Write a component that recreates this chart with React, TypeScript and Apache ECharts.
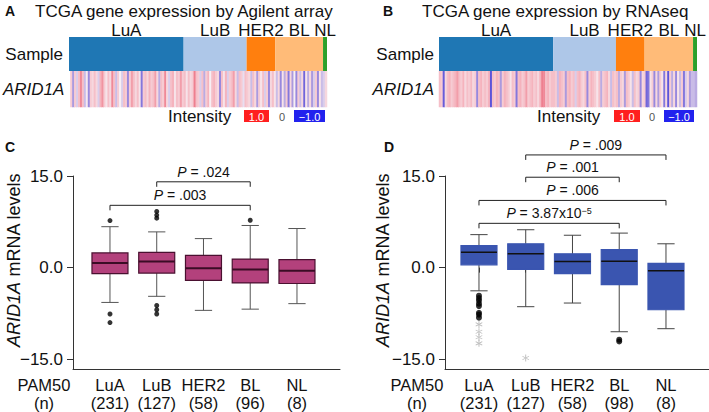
import React, { useEffect, useRef } from 'react';
import * as echarts from 'echarts';

const FONT = '"Liberation Sans", Arial, sans-serif';

const subtypes = ['LuA', 'LuB', 'HER2', 'BL', 'NL'];
const agilentCounts = [231, 127, 58, 96, 8];
const rnaseqCounts = [231, 127, 58, 98, 8];
const subtypeColors = ['#1f77b4', '#aec7e8', '#ff7f0e', '#ffbb78', '#2ca02c'];

// ARID1A intensity stripes (each stripe ≈ 4 samples), Agilent array
const agiLuA = [0.3, -0.5, 0.3, -0.2, 0.4, 0.7, 0.4, -0.3, 0.05, -0.6, 0.3, 0.2, 0.4, 0.2, -0.2, 0.5, 0.65, 0.3, 0.1, 0.4, 0.2, 0.7, 0.4, -0.3, 0.3, 0.0, -0.2, 0.4, 0.3, -0.6, 0.3, 0.6, 0.4, 0.2, 0.4, 0.1, -0.7, 0.3, 0.4, 0.2, 0.5, 0.3, 0.4, 0.6, 0.2, -0.4, 0.4, 0.3, 0.7, 0.2, -0.2, 0.4, 0.5, 0.1, 0.4, 0.3, 0.6, 0.3];
const agiLuB = [0.4, 0.1, 0.4, 0.2, 0.3, 0.75, 0.4, 0.3, -0.2, 0.4, -0.4, 0.3, 0.5, 0.0, 0.4, 0.5, 0.3, 0.2, -0.6, 0.4, 0.1, 0.5, -0.2, 0.3, 0.4, 0.6, 0.2, -0.3, 0.4, 0.3, -0.1, 0.4];
const agiHER2 = [0.3, 0.2, -0.3, 0.4, 0.2, -0.5, 0.3, 0.1, 0.4, -0.2, 0.3, -0.6, 0.2, 0.4, 0.1];
const agiBL = [-0.3, 0.2, -0.6, 0.1, -0.4, 0.3, -0.7, 0.2, -0.5, 0.0, -0.6, 0.3, -0.3, 0.2, -0.8, 0.1, -0.4, 0.2, -0.5, -0.2, 0.3, -0.6, 0.1, -0.3];
const agiNL = [-0.2, 0.2];

// ARID1A intensity stripes, RNAseq
const rnaLuA = [0.4, 0.3, -0.85, 0.2, 0.4, 0.5, 0.3, 0.4, 0.5, 0.6, 0.4, 0.3, 0.5, 0.2, 0.4, 0.3, 0.45, 0.2, 0.3, -0.6, 0.4, 0.5, 0.3, 0.4, 0.3, 0.5, -0.9, 0.4, 0.3, 0.5, 0.4, -0.5, 0.3, 0.5, 0.4, 0.3, 0.1, 0.4, 0.3, -0.7, 0.4, 0.5, 0.3, 0.4, 0.6, 0.3, 0.4, 0.5, 0.3, 0.4, 0.2, 0.5, 0.75, 0.7, 0.4, 0.5, 0.3, 0.4];
const rnaLuB = [0.4, 0.3, -0.3, 0.5, 0.4, 0.3, -0.5, 0.4, 0.5, 0.3, 0.4, -0.2, 0.4, 0.5, 0.3, 0.2, 0.4, -0.6, 0.3, 0.5, 0.4, 0.3, 0.1, 0.4, -0.4, 0.3, 0.4, 0.5, 0.2, -0.3, 0.4, 0.3];
const rnaHER2 = [0.4, -0.4, 0.3, 0.2, -0.5, 0.4, 0.3, 0.1, -0.3, 0.4, 0.2, 0.3, -0.6, 0.2, 0.3];
const rnaBL = [-0.8, -0.7, 0.1, 0.3, -0.6, 0.2, -0.5, 0.3, 0.1, -0.7, 0.2, -0.9, 0.3, -0.4, 0.2, -0.6, 0.1, -0.3, 0.3, -0.7, -0.2, 0.2, -0.5, -0.3];
const rnaNL = [-0.3, -0.4];

// Box statistics [low whisker, Q1, median, Q3, high whisker] per subtype
const boxC = [
  [-5.7, -1.0, 0.77, 2.4, 6.7],
  [-4.7, -0.9, 1.0, 2.5, 5.85],
  [-7.0, -2.1, -0.1, 2.0, 4.75],
  [-6.8, -2.5, -0.3, 1.4, 6.9],
  [-5.9, -2.6, -0.5, 1.3, 6.4],
];
const outliersC = [[0, 7.7], [0, -7.6], [0, -9.0], [1, 9.2], [1, 8.6], [1, 8.1], [1, -6.2], [1, -6.9], [1, -7.6], [3, 7.75]];
const boxD = [
  [-3.8, 0.45, 2.5, 3.6, 5.4],
  [-6.4, -0.3, 2.25, 3.9, 6.2],
  [-5.8, -1.0, 1.0, 2.25, 5.3],
  [-10.5, -2.8, 1.05, 2.95, 5.65],
  [-10.0, -6.9, -0.5, 0.7, 3.9],
];
const outliersD = [[0, -4.6], [0, -5.0], [0, -5.4], [0, -5.9], [0, -6.3], [0, -7.4], [0, -7.7], [0, -8.2], [3, -11.8], [3, -12.1]];
const extremesD = [[0, -9.3], [0, -10.5], [0, -11.4], [0, -12.4], [1, -14.8]];

// Significance brackets [fromIndex, toIndex, y]
const bracketsC = [[1, 3, 14.05], [0, 3, 10.2]];
const pLabelsC = ['{i|P} = .024', '{i|P} = .003'];
const bracketsD = [[1, 4, 18.45], [1, 3, 14.8], [0, 4, 11.0], [0, 3, 7.25]];
const pLabelsD = ['{i|P} = .009', '{i|P} = .001', '{i|P} = .006', '{i|P} = 3.87x10{s|−5}'];

const yTicks = [-15, 0, 15];

const ASTERISK = 'path://M-0.6,-5L0.6,-5L0.6,5L-0.6,5Z M4.03,3.02L4.63,1.98L-4.03,-3.02L-4.63,-1.98Z M-4.63,1.98L-4.03,3.02L4.63,-1.98L4.03,-3.02Z';

function sum(a: number[]) { return a.reduce((s, v) => s + v, 0); }

function stripeData(groups: number[][]) {
  const all = groups.flat();
  return { cats: all.map((_, i) => String(i)), data: all.map((v, i) => [i, 0, v]) };
}

function boxRender(fill: string, border: string, median: string, medianW: number, whisker: string) {
  return (params: any, api: any) => {
    const x = api.value(0);
    const low = api.coord([x, api.value(1)]);
    const q1 = api.coord([x, api.value(2)]);
    const med = api.coord([x, api.value(3)]);
    const q3 = api.coord([x, api.value(4)]);
    const high = api.coord([x, api.value(5)]);
    const bw = api.size([1, 0])[0] * 0.77;
    const cw = bw * 0.48;
    const cx = low[0];
    const ls = { stroke: whisker, lineWidth: 1 };
    return {
      type: 'group',
      children: [
        { type: 'line', shape: { x1: cx, y1: high[1], x2: cx, y2: q3[1] }, style: ls },
        { type: 'line', shape: { x1: cx, y1: q1[1], x2: cx, y2: low[1] }, style: ls },
        { type: 'line', shape: { x1: cx - cw / 2, y1: high[1], x2: cx + cw / 2, y2: high[1] }, style: ls },
        { type: 'line', shape: { x1: cx - cw / 2, y1: low[1], x2: cx + cw / 2, y2: low[1] }, style: ls },
        { type: 'rect', shape: { x: cx - bw / 2, y: q3[1], width: bw, height: q1[1] - q3[1] }, style: { fill, stroke: border, lineWidth: 1.2 } },
        { type: 'line', shape: { x1: cx - bw / 2, y1: med[1], x2: cx + bw / 2, y2: med[1] }, style: { stroke: median, lineWidth: medianW } },
      ],
    };
  };
}

function bracketRender(labels: string[]) {
  return (params: any, api: any) => {
    const a = api.coord([api.value(0), api.value(2)]);
    const b = api.coord([api.value(1), api.value(2)]);
    return {
      type: 'group',
      children: [
        { type: 'polyline', shape: { points: [[a[0], a[1] + 5], [a[0], a[1]], [b[0], b[1]], [b[0], b[1] + 5]] }, style: { stroke: '#222', lineWidth: 1, fill: 'none' } },
        {
          type: 'text',
          style: {
            text: labels[params.dataIndex], x: (a[0] + b[0]) / 2, y: a[1] - 10, align: 'center', verticalAlign: 'middle',
            fontSize: 14, fontFamily: FONT, fill: '#111',
            rich: { i: { fontStyle: 'italic', fontSize: 14, fontFamily: FONT, fill: '#111' }, s: { fontSize: 9, fontFamily: FONT, verticalAlign: 'top', fill: '#111' } },
          },
        },
      ],
    };
  };
}

function legendGraphics(xInt: number, xRed: number, wRed: number, xZero: number, xBlue: number, wBlue: number) {
  const y = 110;
  return [
    { type: 'text', x: xInt, y: 116, style: { text: 'Intensity', fontSize: 17, fontFamily: FONT, fill: '#111', verticalAlign: 'middle' } },
    { type: 'rect', shape: { x: xRed, y, width: wRed, height: 12 }, style: { fill: '#ff1f1f' } },
    { type: 'text', x: xRed + wRed / 2, y: 116.5, style: { text: '1.0', fontSize: 11, fontFamily: FONT, fill: '#fff', align: 'center', verticalAlign: 'middle' } },
    { type: 'text', x: xZero, y: 116.5, style: { text: '0', fontSize: 11, fontFamily: FONT, fill: '#555', align: 'center', verticalAlign: 'middle' } },
    { type: 'rect', shape: { x: xBlue, y, width: wBlue, height: 12 }, style: { fill: '#2222ee' } },
    { type: 'text', x: xBlue + wBlue / 2, y: 116.5, style: { text: '−1.0', fontSize: 11, fontFamily: FONT, fill: '#fff', align: 'center', verticalAlign: 'middle' } },
  ];
}

export default function App() {
  const ref = useRef<HTMLDivElement>(null);
  useEffect(() => {
    if (!ref.current) return;
    const chart = echarts.init(ref.current, undefined, { renderer: 'svg' });
    const stA = stripeData([agiLuA, agiLuB, agiHER2, agiBL, agiNL]);
    const stB = stripeData([rnaLuA, rnaLuB, rnaHER2, rnaBL, rnaNL]);
    const catLabelsC = subtypes.map((s, i) => `${s}\n(${agilentCounts[i]})`);
    const catLabelsD = subtypes.map((s, i) => `${s}\n(${rnaseqCounts[i]})`);
    const txt = { fontSize: 17, fontFamily: FONT, color: '#111' };
    const hiddenAxis = { show: false };

    const sampleBars = (counts: number[], axis: number, stack: string) =>
      subtypes.map((s, i) => ({
        type: 'bar', name: s, stack, xAxisIndex: axis, yAxisIndex: axis, barWidth: '100%',
        data: [counts[i]], itemStyle: { color: subtypeColors[i] },
        label: { show: true, position: 'top', distance: 0, formatter: s, ...txt, lineHeight: 14 },
      }));

    const valueY = (offset: number) => ({
      type: 'value', min: -16.6, max: 15, offset,
      axisLine: { show: true, lineStyle: { color: '#333', width: 1 } },
      axisTick: { show: true, length: 6, customValues: yTicks, lineStyle: { color: '#333' } },
      axisLabel: { ...txt, margin: 10, customValues: yTicks, formatter: (v: number) => v.toFixed(1).replace('-', '−') },
      splitLine: { show: false },
    });
    const catX = (labels: string[]) => ({
      type: 'category', data: labels, boundaryGap: true,
      axisLine: { show: false },
      axisTick: { show: true, alignWithLabel: true, length: 5, lineStyle: { color: '#333' } },
      axisLabel: { ...txt, fontSize: 16.5, lineHeight: 18, margin: 7, interval: 0 },
    });
    const lineX = { type: 'value', min: 0, max: 1, axisLine: { show: true, onZero: false, lineStyle: { color: '#333', width: 1 } }, axisTick: { show: false }, axisLabel: { show: false }, splitLine: { show: false } };

    const option: any = {
      animation: false,
      backgroundColor: '#fff',
      grid: [
        { left: 69, top: 37, width: 258, height: 34 },
        { left: 69, top: 71, width: 258, height: 36 },
        { left: 439, top: 37, width: 258, height: 34 },
        { left: 439, top: 71, width: 258, height: 36 },
        { left: 86.6, top: 176, width: 233.75, height: 193 },
        { left: 73, top: 176, width: 267, height: 193 },
        { left: 455.6, top: 176, width: 233.75, height: 193 },
        { left: 445, top: 176, width: 264, height: 193 },
      ],
      xAxis: [
        { gridIndex: 0, type: 'value', min: 0, max: sum(agilentCounts), ...hiddenAxis },
        { gridIndex: 1, type: 'category', data: stA.cats, ...hiddenAxis },
        { gridIndex: 2, type: 'value', min: 0, max: sum(rnaseqCounts), ...hiddenAxis },
        { gridIndex: 3, type: 'category', data: stB.cats, ...hiddenAxis },
        { gridIndex: 4, ...catX(catLabelsC) },
        { gridIndex: 5, ...lineX },
        { gridIndex: 6, ...catX(catLabelsD) },
        { gridIndex: 7, ...lineX },
      ],
      yAxis: [
        { gridIndex: 0, type: 'category', data: ['Sample'], axisLine: { show: false }, axisTick: { show: false }, axisLabel: { ...txt, margin: 6 } },
        { gridIndex: 1, type: 'category', data: ['ARID1A'], axisLine: { show: false }, axisTick: { show: false }, axisLabel: { ...txt, fontStyle: 'italic', margin: 6 } },
        { gridIndex: 2, type: 'category', data: ['Sample'], axisLine: { show: false }, axisTick: { show: false }, axisLabel: { ...txt, margin: 5 } },
        { gridIndex: 3, type: 'category', data: ['ARID1A'], axisLine: { show: false }, axisTick: { show: false }, axisLabel: { ...txt, fontStyle: 'italic', margin: 5 } },
        { gridIndex: 4, ...valueY(13.6) },
        { gridIndex: 5, type: 'value', min: -16.6, max: 15, show: false },
        { gridIndex: 6, ...valueY(10.6) },
        { gridIndex: 7, type: 'value', min: -16.6, max: 15, show: false },
      ],
      visualMap: {
        type: 'continuous', min: -1, max: 1, show: false, seriesIndex: [10, 11], dimension: 2,
        inRange: { color: ['#4a42d8', '#ab9ade', '#f7eff4', '#f5b3bd', '#e64a60'] },
      },
      series: [
        ...sampleBars(agilentCounts, 0, 'a'),
        ...sampleBars(rnaseqCounts, 2, 'b'),
        { type: 'heatmap', xAxisIndex: 1, yAxisIndex: 1, data: stA.data },
        { type: 'heatmap', xAxisIndex: 3, yAxisIndex: 3, data: stB.data },
        {
          type: 'custom', xAxisIndex: 4, yAxisIndex: 4, clip: false,
          renderItem: boxRender('#b3417c', '#4a1030', '#3a0c25', 2, '#555'),
          encode: { x: 0, y: [1, 2, 3, 4, 5] },
          data: boxC.map((b, i) => [i, ...b]),
        },
        {
          type: 'custom', xAxisIndex: 6, yAxisIndex: 6, clip: false,
          renderItem: boxRender('#3a55b0', '#3a55b0', '#111', 1.5, '#444'),
          encode: { x: 0, y: [1, 2, 3, 4, 5] },
          data: boxD.map((b, i) => [i, ...b]),
        },
        { type: 'scatter', xAxisIndex: 4, yAxisIndex: 4, symbolSize: 5, itemStyle: { color: '#000' }, data: outliersC },
        { type: 'scatter', xAxisIndex: 6, yAxisIndex: 6, symbolSize: 6, itemStyle: { color: '#000' }, data: outliersD },
        { type: 'scatter', xAxisIndex: 6, yAxisIndex: 6, symbol: ASTERISK, symbolSize: 7, itemStyle: { color: '#a8a8a8' }, data: extremesD },
        {
          type: 'custom', xAxisIndex: 4, yAxisIndex: 4, clip: false, renderItem: bracketRender(pLabelsC),
          encode: { x: [0, 1], y: 2 }, data: bracketsC,
        },
        {
          type: 'custom', xAxisIndex: 6, yAxisIndex: 6, clip: false, renderItem: bracketRender(pLabelsD),
          encode: { x: [0, 1], y: 2 }, data: bracketsD,
        },
      ],
      graphic: [
        { type: 'text', x: 5, y: 11, style: { text: 'A', fontSize: 14, fontWeight: 'bold', fontFamily: FONT, fill: '#111', verticalAlign: 'middle' } },
        { type: 'text', x: 35, y: 11, style: { text: 'TCGA gene expression by Agilent array', fontSize: 17, fontFamily: FONT, fill: '#111', verticalAlign: 'middle' } },
        { type: 'text', x: 383, y: 11, style: { text: 'B', fontSize: 14, fontWeight: 'bold', fontFamily: FONT, fill: '#111', verticalAlign: 'middle' } },
        { type: 'text', x: 422, y: 11, style: { text: 'TCGA gene expression by RNAseq', fontSize: 17, fontFamily: FONT, fill: '#111', verticalAlign: 'middle' } },
        ...legendGraphics(168, 244, 25, 282, 294, 31),
        ...legendGraphics(537, 614, 26, 652, 664, 30),
        { type: 'text', x: 5, y: 147, style: { text: 'C', fontSize: 14, fontWeight: 'bold', fontFamily: FONT, fill: '#111', verticalAlign: 'middle' } },
        { type: 'text', x: 384, y: 147, style: { text: 'D', fontSize: 14, fontWeight: 'bold', fontFamily: FONT, fill: '#111', verticalAlign: 'middle' } },
        { type: 'text', x: 44, y: 394, style: { text: 'PAM50\n(n)', fontSize: 16.5, lineHeight: 18, fontFamily: FONT, fill: '#111', align: 'center', verticalAlign: 'middle' } },
        { type: 'text', x: 417, y: 394, style: { text: 'PAM50\n(n)', fontSize: 16.5, lineHeight: 18, fontFamily: FONT, fill: '#111', align: 'center', verticalAlign: 'middle' } },
        {
          type: 'text', x: 14, y: 260, rotation: Math.PI / 2,
          style: { text: '{i|ARID1A} mRNA levels', fontSize: 18, fontFamily: FONT, fill: '#111', align: 'center', verticalAlign: 'middle', rich: { i: { fontStyle: 'italic', fontSize: 18, fontFamily: FONT, fill: '#111' } } },
        },
        {
          type: 'text', x: 383, y: 260, rotation: Math.PI / 2,
          style: { text: '{i|ARID1A} mRNA levels', fontSize: 18, fontFamily: FONT, fill: '#111', align: 'center', verticalAlign: 'middle', rich: { i: { fontStyle: 'italic', fontSize: 18, fontFamily: FONT, fill: '#111' } } },
        },
      ],
    };
    chart.setOption(option);
    return () => chart.dispose();
  }, []);
  return <div ref={ref} style={{ position: 'fixed', left: 0, top: 0, width: 709, height: 412, background: '#fff' }} />;
}
